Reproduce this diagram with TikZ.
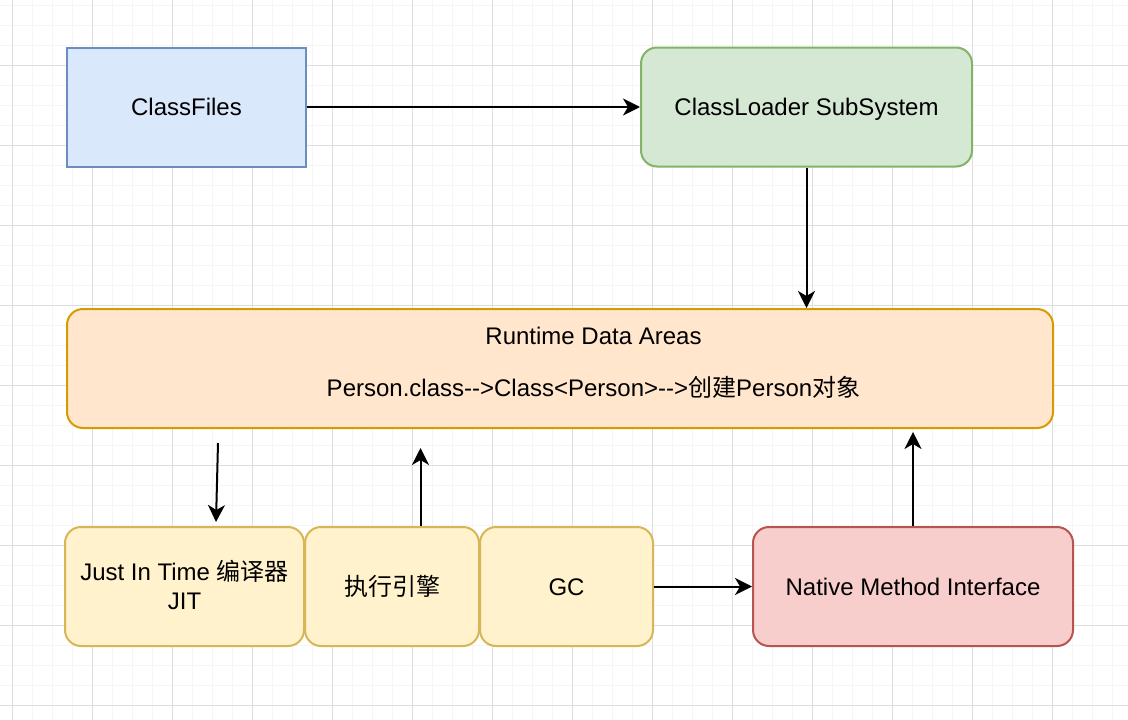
\documentclass[tikz,border=0pt]{standalone}
\usepackage{fontspec}
\setmainfont{Liberation Sans}[Ligatures=TeXOff]
\newfontfamily\cjk{Noto Sans CJK SC}
\usetikzlibrary{arrows.meta}
\definecolor{bluefill}{HTML}{DAE8FC}\definecolor{bluedraw}{HTML}{6C8EBF}
\definecolor{greenfill}{HTML}{D5E8D4}\definecolor{greendraw}{HTML}{82B366}
\definecolor{orangefill}{HTML}{FFE6CC}\definecolor{orangedraw}{HTML}{D79B00}
\definecolor{yellowfill}{HTML}{FFF2CC}\definecolor{yellowdraw}{HTML}{D6B656}
\definecolor{redfill}{HTML}{F8CECC}\definecolor{reddraw}{HTML}{B85450}
\definecolor{gridminor}{HTML}{F5F5F5}\definecolor{gridmajor}{HTML}{DEDEDE}
\tikzset{
  box/.style={draw, line width=2pt, inner sep=0pt, minimum height=119pt,
    align=center, text height=17.2pt, text depth=0pt,
    font=\fontsize{24}{29}\selectfont},
  rbox/.style={box, rounded corners=16pt},
  conn/.style={line width=2pt, -{Stealth[length=17pt,width=17pt,inset=5pt]}},
}
\begin{document}
\begin{tikzpicture}[x=1pt,y=-1pt]
\useasboundingbox (0,0) rectangle (1128,720);
\fill[white] (0,0) rectangle (1128,720);
\foreach \x in {12,32,...,1112} \draw[gridminor, line width=1pt] (\x,0) -- (\x,720);
\foreach \y in {5,25,...,705} \draw[gridminor, line width=1pt] (0,\y) -- (1128,\y);
\foreach \x in {12,92,...,1112} \draw[gridmajor, line width=1pt] (\x,0) -- (\x,720);
\foreach \y in {65,145,...,705} \draw[gridmajor, line width=1pt] (0,\y) -- (1128,\y);

\node[box, fill=bluefill, draw=bluedraw, minimum width=239pt] (cf) at (186.5,107) {ClassFiles};
\node[rbox, fill=greenfill, draw=greendraw, minimum width=331pt] (cl) at (806.5,107) {ClassLoader SubSystem};
\node[rbox, fill=orangefill, draw=orangedraw, minimum width=986pt] (rt) at (560,368.5) {};
\node[inner sep=0pt, align=center, text height=69.2pt, text depth=0pt,
  font=\fontsize{24}{52}\selectfont] (rtlabel) at (593.5,362)
  {Runtime Data Areas\\Person.class-->Class<Person>-->{\cjk 创建}Person{\cjk 对象}};
\node[rbox, fill=yellowfill, draw=yellowdraw, minimum width=239pt, text height=46.2pt] (jit) at (184.5,586.5) {Just In Time {\cjk 编译器}\\JIT};
\node[rbox, fill=yellowfill, draw=yellowdraw, minimum width=174pt] (ee) at (392,586.5) {{\cjk 执行引擎}};
\node[rbox, fill=yellowfill, draw=yellowdraw, minimum width=173pt] (gc) at (566.5,586.5) {GC};
\node[rbox, fill=redfill, draw=reddraw, minimum width=320pt] (nm) at (913,586.5) {Native Method Interface};

\coordinate (jitfrom) at (218,443);
\coordinate (jitto) at (216,522);
\coordinate (eeto) at (420.5,448);
\coordinate (nmto) at (913,432);

\draw[conn] (cf) -- (cl);
\draw[conn] (cl.south) -- (cl.south |- rt.north);
\draw[conn] (jitfrom) -- (jitto);
\draw[conn] (ee.north -| eeto) -- (eeto);
\draw[conn] (gc) -- (nm);
\draw[conn] (nm.north) -- (nmto);
\end{tikzpicture}
\end{document}
